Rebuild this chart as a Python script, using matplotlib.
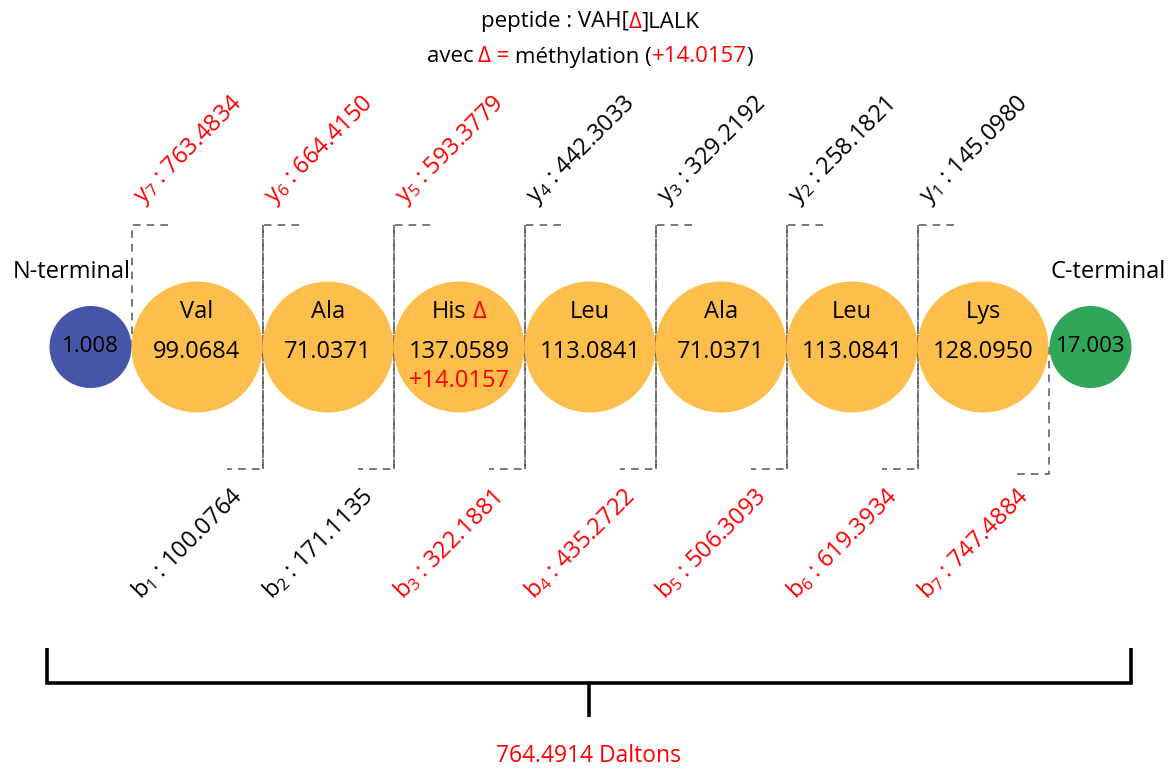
import numpy as np
import matplotlib
matplotlib.use('Agg')
import matplotlib.pyplot as plt
from matplotlib.patches import Circle

plt.rcParams['font.family'] = ['Open Sans', 'DejaVu Sans']
plt.rcParams['mathtext.fontset'] = 'custom'
plt.rcParams['mathtext.rm'] = 'Open Sans'
plt.rcParams['mathtext.it'] = 'Open Sans:italic'

# data

residues = ['Val', 'Ala', 'His', 'Leu', 'Ala', 'Leu', 'Lys']
masses = [99.0684, 71.0371, 137.0589, 113.0841, 71.0371, 113.0841, 128.0950]
n_term_mass = 1.008
c_term_mass = 17.003
mod_mass = 14.0157
mod_index = 2  # His
y_ions = [763.4834, 664.4150, 593.3779, 442.3033, 329.2192, 258.1821, 145.0980]  # y7 .. y1
y_red = [True, True, True, False, False, False, False]
b_ions = [100.0764, 171.1135, 322.1881, 435.2722, 506.3093, 619.3934, 747.4884]  # b1 .. b7
b_red = [False, False, True, True, True, True, True]
total_mass = 764.4914

RED = '#ff0000'
ORANGE = '#fdbe4c'
BLUE = '#4655a5'
GREEN = '#31a55a'
DASH = '#555555'

fig = plt.figure(figsize=(11.73, 7.69), dpi=100)
ax = fig.add_axes([0, 0, 1, 1])
ax.set_xlim(0, 1173)
ax.set_ylim(769, 0)
ax.axis('off')

renderer = fig.canvas.get_renderer()


def rich_line(x, y, parts, size=16):
    '''
    Pieces of text with their own colour, drawn side by side and centered on x.
    parts: list of (text, color, gap_after)
    '''
    texts = []
    for s, c, g in parts:
        t = ax.text(0, y, s, color=c, fontsize=size, ha='left', va='center', zorder=3)
        texts.append((t, g))
    widths = [t.get_window_extent(renderer).width for t, g in texts]
    total = sum(widths) + sum(g for t, g in texts[:-1])
    start = x - total / 2
    for (t, g), w in zip(texts, widths):
        t.set_x(start)
        start += w + g


# title

sp = 5
rich_line(590, 22, [('peptide : VAH[', 'black', 0), ('Δ', RED, 0), (']LALK', 'black', 0)])
rich_line(590, 57, [('avec', 'black', sp), ('Δ =', RED, sp), ('méthylation (', 'black', 0),
                    ('+14.0157', RED, 0), (')', 'black', 0)])

# layout

y_mid = 347
step = 131
x_first = 197
r_res = 65.5
r_term = 41
centers = [x_first + i * step for i in range(len(residues))]
bounds = [x_first - step / 2 + i * step for i in range(len(residues) + 1)]
top_y = 225
bot_y = 469

# dashed brackets

dash_kw = dict(color=DASH, lw=1.1, dashes=(5, 4), zorder=1)
for i, xb in enumerate(bounds):
    if i < len(bounds) - 1:
        # y ion bracket (top)
        y1 = bot_y if i > 0 else y_mid
        ax.plot([xb + 36, xb, xb], [top_y, top_y, y1], **dash_kw)
    if i > 0:
        # b ion bracket (bottom)
        yb = bot_y if i < len(bounds) - 1 else bot_y + 5
        y0 = top_y if i < len(bounds) - 1 else y_mid
        ax.plot([xb, xb, xb - 36], [y0, yb, yb], **dash_kw)

# circles

ax.add_patch(Circle((bounds[0] - r_term, y_mid), r_term, color=BLUE, zorder=2, lw=0))
ax.add_patch(Circle((bounds[-1] + r_term + 1, y_mid), r_term, color=GREEN, zorder=2, lw=0))
for i, (cx, name, m) in enumerate(zip(centers, residues, masses)):
    ax.add_patch(Circle((cx, y_mid), r_res, color=ORANGE, zorder=2, lw=0))
    if i == mod_index:
        rich_line(cx, 312, [(name, 'black', 6), ('Δ', RED, 0)], size=17)
        ax.text(cx, 381, '+%.4f' % mod_mass, fontsize=17, color=RED, ha='center', va='center', zorder=3)
    else:
        ax.text(cx, 312, name, fontsize=17, ha='center', va='center', zorder=3)
    ax.text(cx, 352, '%.4f' % m, fontsize=17, ha='center', va='center', zorder=3)

ax.text(bounds[0] - r_term, y_mid, '%.3f' % n_term_mass, fontsize=16, ha='center', va='center', zorder=3)
ax.text(bounds[-1] + r_term + 1, y_mid, '%.3f' % c_term_mass, fontsize=16, ha='center', va='center', zorder=3)
ax.text(72, 272, 'N-terminal', fontsize=17, ha='center', va='center')
ax.text(1108, 272, 'C-terminal', fontsize=17, ha='center', va='center')

# fragment labels

n = len(y_ions)
for i, (v, red) in enumerate(zip(y_ions, y_red)):
    xb = bounds[i]
    ax.text(xb + 11, 204, r'$\mathregular{y_{%d}}$ : %.4f' % (n - i, v),
            color=RED if red else 'black', fontsize=17, rotation=45,
            rotation_mode='anchor', ha='left', va='baseline')

for i, (v, red) in enumerate(zip(b_ions, b_red)):
    xb = bounds[i + 1]
    ax.text(xb - 122, 600, r'$\mathregular{b_{%d}}$ : %.4f' % (i + 1, v),
            color=RED if red else 'black', fontsize=17, rotation=45,
            rotation_mode='anchor', ha='left', va='baseline')

# total mass bracket

line_kw = dict(color='black', lw=2.6, solid_capstyle='butt')
ax.plot([47, 47, 1131, 1131], [648, 683, 683, 648], solid_joinstyle='miter', **line_kw)
ax.plot([589, 589], [683, 717], **line_kw)
ax.text(589, 756, '%.4f Daltons' % total_mass, color=RED, fontsize=16.5, ha='center', va='center',
        family=['Liberation Sans Narrow', 'Open Sans', 'DejaVu Sans'])

fig.savefig('out.png', dpi=100)
